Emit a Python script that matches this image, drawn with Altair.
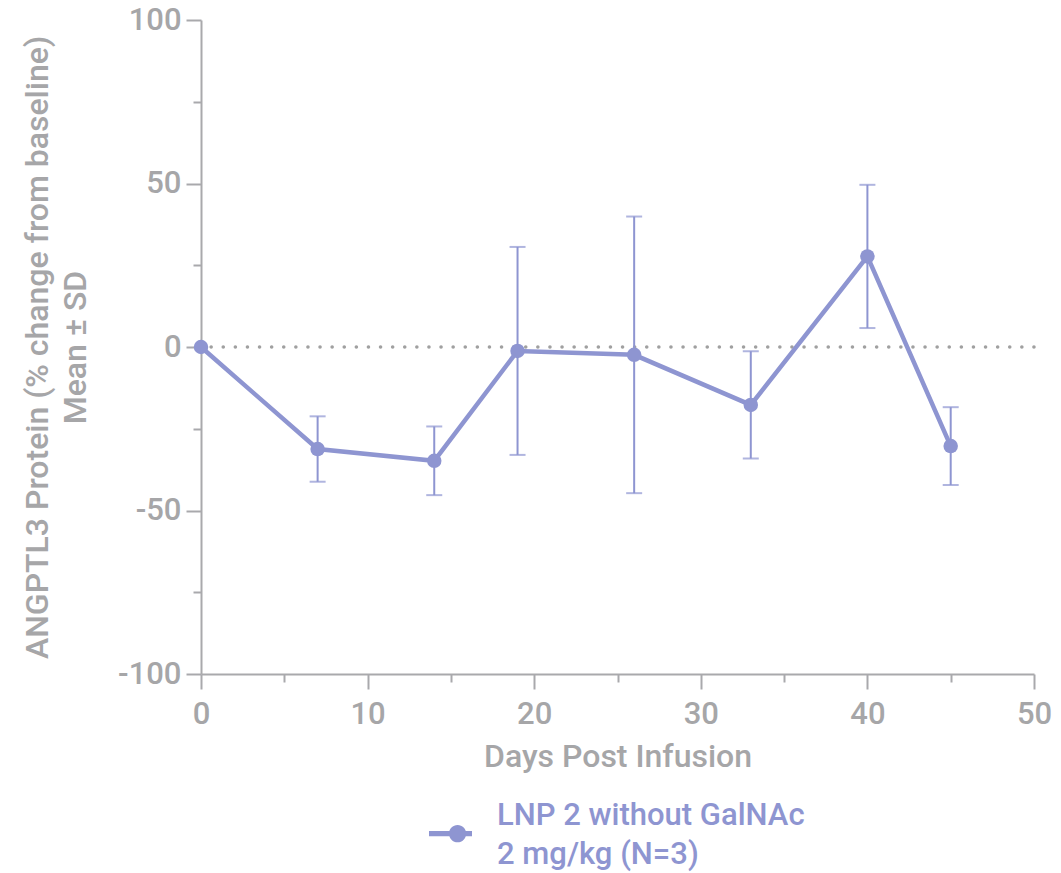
import altair as alt
import pandas as pd

# Mean ± SD of ANGPTL3 protein change from baseline, by study day
days = [0, 7, 14, 19, 26, 33, 40, 45]
mean_change = [0.0, -31.2, -34.8, -1.2, -2.4, -17.7, 27.7, -30.3]
sd_change = [0.0, 10.0, 10.5, 31.8, 42.3, 16.4, 21.9, 11.9]

series_lines = ["LNP 2 without GalNAc", "2 mg/kg (N=3)"]
series_name = " ".join(series_lines)

LINE_COLOR = "#8e95d1"
AXIS_GRAY = "#a9a9ac"
TEXT_GRAY = "#a6a6a8"
FONT = "Roboto"
WEIGHT = 500

df = pd.DataFrame({"day": days, "mean": mean_change, "sd": sd_change})
df["lo"] = df["mean"] - df["sd"]
df["hi"] = df["mean"] + df["sd"]
df["group"] = series_name
bars = df[df["sd"] > 0]

x_axis = alt.Axis(
    values=list(range(0, 51, 5)),
    labelExpr="datum.value % 10 === 0 ? toString(datum.value) : ''",
    tickSize={"condition": {"test": "datum.value % 10 !== 0", "value": 8}, "value": 15},
    labelFlush=False,
    title="Days Post Infusion",
    titlePadding=12,
    labelPadding=10,
)
y_axis = alt.Axis(
    values=list(range(-100, 101, 25)),
    labelExpr="datum.value % 50 === 0 ? toString(datum.value) : ''",
    tickSize={"condition": {"test": "datum.value % 50 !== 0", "value": 8}, "value": 15},
    labelFlush=False,
    title=["ANGPTL3 Protein (% change from baseline)", "Mean ± SD"],
    titlePadding=25,
    labelPadding=5,
)

x_enc = alt.X("day:Q", scale=alt.Scale(domain=[0, 50], nice=False, zero=False), axis=x_axis)
y_scale = alt.Scale(domain=[-100, 100], nice=False)

base = alt.Chart(df)

zero_line = alt.Chart(pd.DataFrame({"y": [0]})).mark_rule(
    color="#a0a0a0", strokeWidth=3.5, strokeDash=[0.1, 12], strokeCap="round"
).encode(y=alt.Y("y:Q", scale=y_scale, axis=y_axis))

err_rule = alt.Chart(bars).mark_rule(color=LINE_COLOR, strokeWidth=2).encode(
    x=x_enc, y=alt.Y("lo:Q", scale=y_scale, axis=y_axis), y2="hi:Q"
)
cap_lo = alt.Chart(bars).mark_tick(color=LINE_COLOR, thickness=2, size=16, orient="horizontal").encode(
    x=x_enc, y=alt.Y("lo:Q", scale=y_scale, axis=y_axis)
)
cap_hi = alt.Chart(bars).mark_tick(color=LINE_COLOR, thickness=2, size=16, orient="horizontal").encode(
    x=x_enc, y=alt.Y("hi:Q", scale=y_scale, axis=y_axis)
)

line = base.mark_line(color=LINE_COLOR, strokeWidth=4.5).encode(
    x=x_enc, y=alt.Y("mean:Q", scale=y_scale, axis=y_axis)
)

# Legend: line-with-dot symbol (drawn a little below the entry centre so it sits
# between the two text lines), two-line description set as the legend title on its right
legend = alt.Legend(
    title=series_lines,
    titleOrient="right",
    titleAnchor="start",
    titleBaseline="top",
    titleLineHeight=39,
    titleFont=FONT,
    titleFontSize=31,
    titleFontWeight=WEIGHT,
    titleColor=LINE_COLOR,
    titlePadding=25,
    titleLimit=600,
    orient="none",
    legendX=228,
    legendY=781,
    labelExpr="''",
    labelOffset=0,
    symbolType="M-1,0.4H1V0.64H-1Z M0.73,0.52 A0.4,0.4 0 1,1 -0.07,0.52 A0.4,0.4 0 1,1 0.73,0.52Z",
    symbolSize=1849,
    symbolFillColor=LINE_COLOR,
    symbolStrokeWidth=0,
)

points = base.mark_point(filled=True, size=210, opacity=1).encode(
    x=x_enc,
    y=alt.Y("mean:Q", scale=y_scale, axis=y_axis),
    color=alt.Color("group:N", scale=alt.Scale(domain=[series_name], range=[LINE_COLOR]), legend=legend),
)

chart = alt.layer(zero_line, err_rule, cap_lo, cap_hi, line, points).properties(
    width=833,
    height=654,
    autosize=alt.AutoSizeParams(type="none"),
    padding={"left": 201, "top": 20, "right": 27, "bottom": 199},
).configure_view(stroke=None).configure_axis(
    grid=False,
    domainColor=AXIS_GRAY,
    domainWidth=2,
    tickColor=AXIS_GRAY,
    tickWidth=2,
    labelFont=FONT,
    labelFontSize=31,
    labelFontWeight=WEIGHT,
    labelColor=TEXT_GRAY,
    titleFont=FONT,
    titleFontSize=32,
    titleFontWeight=WEIGHT,
    titleColor=TEXT_GRAY,
    titleLineHeight=38,
)

chart.save("out.html", embed_options={"renderer": "svg", "actions": False})
